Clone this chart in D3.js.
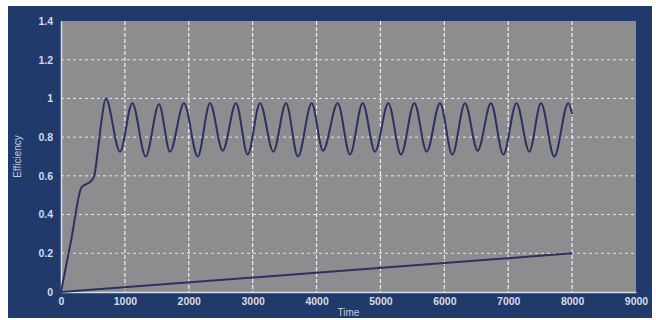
<!DOCTYPE html>
<html>
<head>
<meta charset="utf-8">
<script src="https://cdn.jsdelivr.net/npm/d3@7"></script>
<style>
  body { margin: 0; background: #ffffff; }
  svg { display: block; }
</style>
</head>
<body>
<div id="chart"></div>
<script>
// values
const xTicks = [0, 1000, 2000, 3000, 4000, 5000, 6000, 7000, 8000, 9000];
const yTicks = [0, 0.2, 0.4, 0.6, 0.8, 1, 1.2, 1.4];

// efficiency curve: start-up, then peaks and troughs
const effTime = [0, 160, 320, 380, 460, 520, 580, 640, 700,
    923, 1116, 1326, 1534, 1706, 1925, 2140, 2332, 2531, 2739, 2922, 3115,
    3323, 3522, 3709, 3924, 4101, 4331, 4523, 4722, 4915, 5123, 5322, 5530,
    5724, 5932, 6125, 6323, 6522, 6730, 6923, 7129, 7330, 7513, 7721, 7940, 8000];
const effValue = [0, 0.27, 0.54, 0.555, 0.57, 0.6, 0.74, 0.9, 1.0,
    0.725, 0.975, 0.70, 0.97, 0.725, 0.975, 0.70, 0.975, 0.73, 0.975, 0.71, 0.975,
    0.725, 0.975, 0.70, 0.975, 0.73, 0.975, 0.71, 0.975, 0.725, 0.975, 0.71, 0.975,
    0.725, 0.975, 0.71, 0.975, 0.73, 0.975, 0.71, 0.975, 0.725, 0.975, 0.70, 0.975, 0.92];

// second series, straight line
const lineTime = [0, 8000];
const lineValue = [0, 0.2];

const width = 656, height = 320;
const plot = {left: 61, right: 636, top: 21, bottom: 292};

let svg = d3.select('#chart')
            .append('svg')
            .attr('width', width)
            .attr('height', height);

// navy frame
svg.append("rect")
    .attr("x", 8).attr("y", 6)
    .attr("width", 644).attr("height", 312)
    .attr("fill", "#203a6c");

svg.append("rect")
    .attr("x", plot.left).attr("y", plot.top)
    .attr("width", plot.right - plot.left).attr("height", plot.bottom - plot.top)
    .attr("fill", "#8d8d8f");

let x = d3.scaleLinear().domain([0, 9000]).range([plot.left, plot.right]);
let y = d3.scaleLinear().domain([0, 1.4]).range([plot.bottom, plot.top]);

// grid
svg.append("g")
    .selectAll("line")
    .data(yTicks.filter(d => d > 0 && d < 1.4))
    .join("line")
    .attr("x1", plot.left).attr("x2", plot.right)
    .attr("y1", d => y(d)).attr("y2", d => y(d))
    .attr("stroke", "#e4e4e6")
    .attr("stroke-width", 1)
    .attr("stroke-dasharray", "3,3");

svg.append("g")
    .selectAll("line")
    .data(xTicks.filter(d => d > 0 && d < 9000))
    .join("line")
    .attr("x1", d => x(d)).attr("x2", d => x(d))
    .attr("y1", plot.top).attr("y2", plot.bottom)
    .attr("stroke", "#eeeeee")
    .attr("stroke-width", 1.2)
    .attr("stroke-dasharray", "4,2");

// axes
let xAxis = d3.axisBottom(x).tickValues(xTicks).tickSize(0).tickPadding(6).tickFormat(d3.format("d"));
let yAxis = d3.axisLeft(y).tickValues(yTicks).tickSize(0).tickPadding(8).tickFormat(d => d3.format("~g")(d));

let gx = svg.append("g").attr("transform", "translate(0," + plot.bottom + ")").call(xAxis);
let gy = svg.append("g").attr("transform", "translate(" + plot.left + ",0)").call(yAxis);

[gx, gy].forEach(g => {
    g.select(".domain").attr("stroke", "#d8dce6").attr("stroke-width", 1.5);
    g.selectAll("text")
        .attr("fill", "#d6dbe8")
        .style("font-family", "Liberation Sans, Arial, sans-serif")
        .style("font-size", "10.5px")
        .style("font-weight", "bold");
});

svg.append("text")
    .attr("x", (plot.left + plot.right) / 2)
    .attr("y", 316)
    .attr("text-anchor", "middle")
    .attr("fill", "#c4cbdc")
    .style("font-family", "Liberation Sans, Arial, sans-serif")
    .style("font-size", "10px")
    .text("Time");

svg.append("text")
    .attr("transform", "translate(21," + y(0.7) + ") rotate(-90)")
    .attr("text-anchor", "middle")
    .attr("fill", "#c4cbdc")
    .style("font-family", "Liberation Sans, Arial, sans-serif")
    .style("font-size", "10px")
    .text("Efficiency");

// series
let effLine = d3.line()
    .x((d, i) => x(effTime[i]))
    .y(d => y(d))
    .curve(d3.curveMonotoneX);

svg.append("path")
    .attr("d", effLine(effValue))
    .attr("fill", "none")
    .attr("stroke", "#2b3160")
    .attr("stroke-width", 2);

let straight = d3.line()
    .x((d, i) => x(lineTime[i]))
    .y(d => y(d));

svg.append("path")
    .attr("d", straight(lineValue))
    .attr("fill", "none")
    .attr("stroke", "#2b3160")
    .attr("stroke-width", 2);
</script>
</body>
</html>
